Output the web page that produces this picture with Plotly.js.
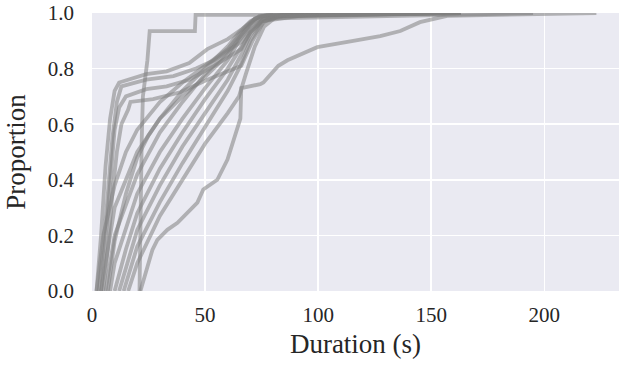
<!DOCTYPE html>
<html>
<head>
<meta charset="utf-8">
<script src="https://cdn.plot.ly/plotly-3.0.1.min.js"></script>
<style>html,body{margin:0;padding:0;background:#fff;}#chart{width:619px;height:369px;}</style>
</head>
<body>
<div id="chart"></div>
<script>
// Each curve: durations (s) and cumulative proportion
const fast1_s = [2, 4, 6, 8, 10, 12, 24, 33, 43, 51, 60, 66, 72, 80, 163];
const fast1_p = [0, 0.2, 0.45, 0.62, 0.72, 0.75, 0.78, 0.79, 0.82, 0.87, 0.906, 0.94, 0.98, 0.995, 1];
const fast2_s = [3, 5, 7, 9, 11, 13, 24, 36, 46, 54, 61, 66, 70, 76, 90];
const fast2_p = [0, 0.15, 0.35, 0.55, 0.68, 0.736, 0.76, 0.773, 0.80, 0.83, 0.87, 0.895, 0.94, 0.98, 1];
const fast3_s = [4, 6, 8, 10, 12, 15, 24, 33, 43, 54, 66, 70, 75, 85, 150];
const fast3_p = [0, 0.2, 0.4, 0.58, 0.66, 0.70, 0.726, 0.736, 0.76, 0.81, 0.87, 0.93, 0.97, 0.99, 1];
const fast4_s = [5, 7, 9, 11, 13, 16, 17, 27, 39, 51, 66, 71, 76, 85, 120];
const fast4_p = [0, 0.15, 0.35, 0.5, 0.6, 0.653, 0.68, 0.69, 0.715, 0.76, 0.81, 0.9, 0.97, 0.995, 1];
const step_s = [21, 21.5, 22, 22.5, 24.5, 25.5, 45.5, 45.8, 100, 100.5];
const step_p = [0, 0.35, 0.55, 0.70, 0.83, 0.935, 0.935, 0.993, 0.993, 1];
const mid1_s = [4, 10, 20, 30, 40, 50, 60, 65, 70, 75, 110];
const mid1_p = [0, 0.30, 0.50, 0.62, 0.72, 0.80, 0.88, 0.93, 0.97, 0.99, 1];
const mid2_s = [6, 10, 20, 30, 40, 50, 60, 65, 70, 76, 163];
const mid2_p = [0, 0.20, 0.42, 0.57, 0.68, 0.78, 0.86, 0.91, 0.96, 0.99, 1];
const mid3_s = [8, 10, 20, 30, 40, 50, 60, 65, 70, 75, 163];
const mid3_p = [0, 0.10, 0.35, 0.50, 0.62, 0.73, 0.83, 0.90, 0.95, 0.985, 1];
const mid4_s = [10, 15, 20, 30, 40, 50, 60, 66, 70, 76, 195];
const mid4_p = [0, 0.15, 0.28, 0.44, 0.57, 0.69, 0.80, 0.88, 0.93, 0.98, 1];
const mid5_s = [12, 15, 20, 30, 40, 50, 60, 66, 70, 75, 100];
const mid5_p = [0, 0.08, 0.22, 0.38, 0.52, 0.64, 0.76, 0.85, 0.92, 0.97, 1];
const mid6_s = [14, 20, 30, 40, 50, 60, 65, 70, 75, 80, 130];
const mid6_p = [0, 0.16, 0.32, 0.46, 0.59, 0.72, 0.80, 0.90, 0.96, 0.99, 1];
const mid7_s = [16, 20, 30, 40, 50, 60, 65, 68, 72, 76, 82, 163];
const mid7_p = [0, 0.10, 0.27, 0.40, 0.53, 0.64, 0.70, 0.78, 0.88, 0.95, 0.99, 1];
const mid8_s = [7, 10, 15, 20, 25, 30, 40, 50, 60, 66, 72, 80];
const mid8_p = [0, 0.18, 0.35, 0.48, 0.56, 0.62, 0.70, 0.77, 0.85, 0.92, 0.98, 1];
const mid9_s = [2, 5, 10, 15, 20, 30, 40, 50, 60, 68, 74, 163];
const mid9_p = [0, 0.2, 0.38, 0.5, 0.58, 0.68, 0.75, 0.81, 0.87, 0.95, 0.99, 1];
const slow_s = [21.4, 26.7, 28.9, 33.3, 37.8, 46.6, 49.2, 55.4, 59.9, 62.5, 65.6, 66, 74.4, 75.8, 82.4, 86.4, 99.6, 115.5, 127.4, 136.3, 145, 157, 223];
const slow_p = [0.0, 0.148, 0.184, 0.22, 0.245, 0.318, 0.365, 0.40, 0.473, 0.545, 0.62, 0.73, 0.744, 0.75, 0.81, 0.83, 0.877, 0.90, 0.917, 0.935, 0.967, 0.99, 1.0];

const xTicks = [0, 50, 100, 150, 200];
const yTicks = [0.0, 0.2, 0.4, 0.6, 0.8, 1.0];

const curves = [
  [fast1_s, fast1_p], [fast2_s, fast2_p], [fast3_s, fast3_p], [fast4_s, fast4_p],
  [step_s, step_p],
  [mid1_s, mid1_p], [mid2_s, mid2_p], [mid3_s, mid3_p], [mid4_s, mid4_p], [mid5_s, mid5_p],
  [mid6_s, mid6_p], [mid7_s, mid7_p], [mid8_s, mid8_p], [mid9_s, mid9_p],
  [slow_s, slow_p]
];

const traces = curves.map(c => ({
  x: c[0], y: c[1], type: 'scatter', mode: 'lines',
  line: {color: 'rgba(128,128,128,0.55)', width: 3.8, shape: 'linear'},
  hoverinfo: 'skip', showlegend: false
}));

const fontFam = '"Liberation Serif", "DejaVu Serif", serif';
const layout = {
  width: 619, height: 369,
  margin: {l: 92, r: 0, t: 13, b: 78, pad: 0},
  paper_bgcolor: '#ffffff', plot_bgcolor: '#EAEAF2',
  font: {family: fontFam, size: 21, color: '#262626'},
  showlegend: false,
  xaxis: {
    range: [0, 233], tickvals: xTicks, ticktext: xTicks.map(String),
    showgrid: true, gridcolor: '#ffffff', gridwidth: 1.6,
    zeroline: false, showline: false, ticks: '', ticklabelstandoff: 9,
    tickfont: {family: fontFam, size: 21, color: '#262626'},
    title: {text: 'Duration (s)', font: {family: fontFam, size: 27, color: '#262626'}, standoff: 8}
  },
  yaxis: {
    range: [0, 1], tickvals: yTicks, ticktext: yTicks.map(v => v.toFixed(1)),
    showgrid: true, gridcolor: '#ffffff', gridwidth: 1.6,
    zeroline: false, showline: false, ticks: '', ticklabelstandoff: 17,
    tickfont: {family: fontFam, size: 21, color: '#262626'},
    title: {text: 'Proportion', font: {family: fontFam, size: 27, color: '#262626'}, standoff: 14}
  }
};

Plotly.newPlot('chart', traces, layout, {staticPlot: true, displayModeBar: false});
</script>
</body>
</html>
